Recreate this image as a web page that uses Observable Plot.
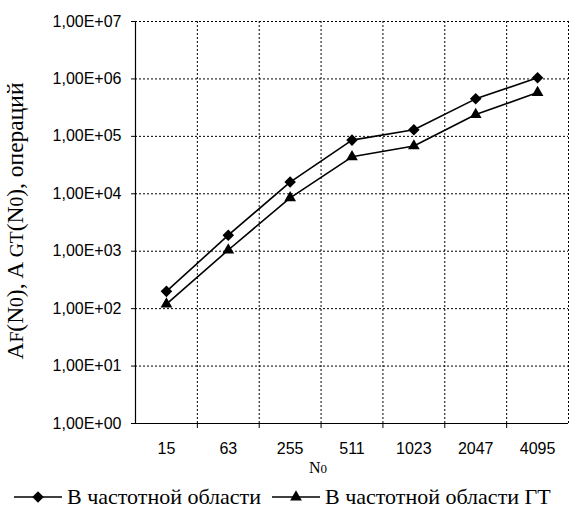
<!DOCTYPE html>
<html>
<head>
<meta charset="utf-8">
<script src="https://cdn.jsdelivr.net/npm/d3@7"></script>
<script src="https://cdn.jsdelivr.net/npm/@observablehq/plot@0.6"></script>
<style>
  html, body { margin: 0; padding: 0; background: #fff; }
  #chart svg { display: block; }
  .legend { display: flex; align-items: center; height: 38px; padding-left: 14px;
            font-family: "Liberation Serif", "Times New Roman", serif; font-size: 22px; color: #000; }
  .legend .item { display: flex; align-items: center; margin-right: 11px; }
  .legend svg { margin-right: 5px; }
</style>
</head>
<body>
<div id="chart"></div>
<div class="legend" id="legend"></div>
<script>
// Transform size N0 (category labels on the x axis)
const categories = ["15", "63", "255", "511", "1023", "2047", "4095"];
// Number of operations, frequency-domain method
const freqOps = [200, 1900, 16000, 86000, 130000, 450000, 1050000];
// Number of operations, frequency-domain method with GT
const gtOps = [120, 1050, 8500, 44000, 68000, 240000, 580000];
// Decade ticks of the logarithmic y axis
const yTicks = [1, 10, 100, 1000, 10000, 100000, 1000000, 10000000];

const seriesNames = ["В частотной области", "В частотной области ГТ"];
const seriesSymbols = ["diamond2", "triangle2"];
const markerR = [5.2, 5.6];

const series = [freqOps, gtOps].map((vals, k) =>
  categories.map((c, i) => ({i, n: c, v: vals[i], s: seriesNames[k]})));

const idx = categories.map((_, i) => i);
const bounds = categories.map((_, i) => i + 0.5);          // band separators incl. right edge
const fmtE = d => "1,00E+" + String(Math.round(Math.log10(d))).padStart(2, "0");

const W = 570, H = 478;
const chart = Plot.plot({
  width: W,
  height: H,
  marginLeft: 135,
  marginRight: 2,
  marginTop: 21,
  marginBottom: 55,
  style: {fontFamily: "'Liberation Sans', Arial, sans-serif", fontSize: "16px", color: "#000", background: "#fff"},
  x: {type: "linear", domain: [-0.5, categories.length - 0.5]},
  y: {type: "log", domain: [1, 1e7]},
  marks: [
    Plot.gridY(yTicks.slice(1), {stroke: "#000", strokeOpacity: 1, strokeDasharray: "2,2", strokeWidth: 1}),
    Plot.gridX(bounds, {stroke: "#000", strokeOpacity: 1, strokeDasharray: "2,2", strokeWidth: 1}),
    Plot.axisY(yTicks, {tickSize: 4, tickPadding: 10, tickFormat: fmtE, label: null, fontSize: 16}),
    Plot.axisX(bounds.slice(0, -1), {tickSize: 5, tickFormat: () => "", label: null}),
    Plot.axisX(idx, {tickSize: 0, tickPadding: 19, tickFormat: i => categories[i], label: null, fontSize: 16}),
    Plot.ruleX([-0.5], {stroke: "#000", strokeWidth: 1.2}),
    Plot.ruleY([1], {stroke: "#000", strokeWidth: 1.2}),
    ...series.map(d => Plot.line(d, {x: "i", y: "v", stroke: "#000", strokeWidth: 1.6})),
    ...series.map((d, k) => Plot.dot(d, {x: "i", y: "v", symbol: seriesSymbols[k], r: markerR[k], fill: "#000", stroke: "none"}))
  ]
});

// Axis titles with subscripted indices
const svg = d3.select(chart);
const serif = "'Liberation Serif', 'Times New Roman', serif";

const yt = svg.append("text")
  .attr("transform", "translate(23,221) rotate(-90)")
  .attr("text-anchor", "middle")
  .attr("font-family", serif)
  .attr("font-size", 23.5)
  .attr("fill", "#000");
const parts = [["A", 0], ["F", 1], ["(N", 0], ["0", 1], "), ", ["A ", 0], ["GT", 1], ["(N", 0], ["0", 1], "), операций"];
parts.forEach(p => {
  const [t, sub] = Array.isArray(p) ? p : [p, 0];
  yt.append("tspan").attr("font-size", sub ? 19.5 : 23.5).text(t);
});

const xt = svg.append("text")
  .attr("x", 318).attr("y", 473)
  .attr("text-anchor", "middle")
  .attr("font-family", serif)
  .attr("fill", "#000");
xt.append("tspan").attr("font-size", 16).text("N");
xt.append("tspan").attr("font-size", 13).text("0");

document.getElementById("chart").appendChild(chart);

// Legend below the chart
const legend = d3.select("#legend");
seriesNames.forEach((name, k) => {
  const item = legend.append("div").attr("class", "item");
  const s = item.append("svg").attr("width", 48).attr("height", 20);
  s.append("line").attr("x1", 0).attr("x2", 48).attr("y1", 10).attr("y2", 10)
    .attr("stroke", "#000").attr("stroke-width", 1.6);
  const sym = k === 0 ? d3.symbolDiamond2 : d3.symbolTriangle2;
  const r = markerR[k];
  s.append("path").attr("transform", "translate(24,10)")
    .attr("d", d3.symbol(sym, Math.PI * r * r)()).attr("fill", "#000");
  item.append("span").text(name);
});
</script>
</body>
</html>
